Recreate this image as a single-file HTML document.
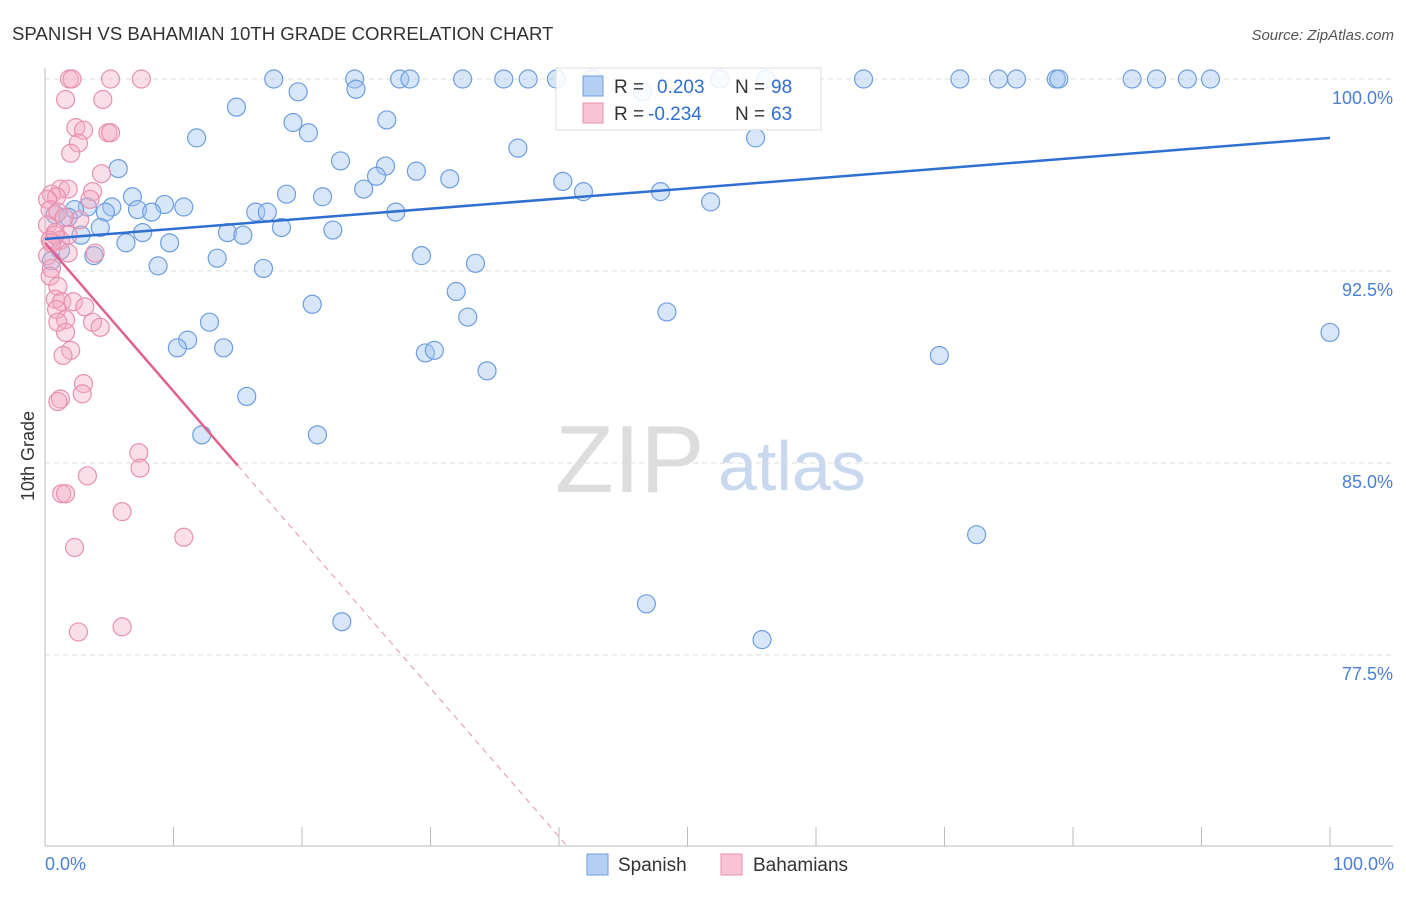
<!DOCTYPE html>
<html><head><meta charset="utf-8"><style>
body{margin:0;background:#fff;font-family:"Liberation Sans",sans-serif;}
svg text{font-family:"Liberation Sans",sans-serif;}
</style></head><body>
<svg id="chart" width="1406" height="892" xmlns="http://www.w3.org/2000/svg">
<text x="12" y="40" font-size="18.6" fill="#333">SPANISH VS BAHAMIAN 10TH GRADE CORRELATION CHART</text>
<text x="1394" y="40" font-size="15" fill="#555" font-style="italic" text-anchor="end">Source: ZipAtlas.com</text>
<g>
<text x="555" y="492" font-size="96" fill="#ddd" font-family="Liberation Serif, serif">ZIP</text>
<text x="718" y="490" font-size="70" fill="#c8d8ee">atlas</text>
</g>
<g id="grid"></g>
<g id="axes"></g>
<g id="pts"></g>
<g id="trends"></g>
<text transform="translate(34,456) rotate(-90)" font-size="18" fill="#333" text-anchor="middle">10th Grade</text>
<text x="45" y="870" font-size="18" fill="#4a7fd4">0.0%</text>
<text x="1394" y="870" font-size="18" fill="#4a7fd4" text-anchor="end">100.0%</text>
<g>
<rect x="556" y="68" width="265" height="62" fill="rgba(255,255,255,0.85)" stroke="#ddd"/>
<rect x="583" y="76" width="20" height="20" fill="#b5cff3" stroke="#6d9ee0"/>
<text x="614" y="93" font-size="19" fill="#333">R = </text><text x="657" y="93" font-size="19" fill="#2f6fd0">0.203</text>
<text x="735" y="93" font-size="19" fill="#333">N = </text><text x="771" y="93" font-size="19" fill="#2f6fd0">98</text>
<rect x="583" y="103" width="20" height="20" fill="#f8c3d4" stroke="#e890b0"/>
<text x="614" y="120" font-size="19" fill="#333">R = </text><text x="648" y="120" font-size="19" fill="#2f6fd0">-0.234</text>
<text x="735" y="120" font-size="19" fill="#333">N = </text><text x="771" y="120" font-size="19" fill="#2f6fd0">63</text>
</g>
<g>
<rect x="587" y="854" width="21" height="21" fill="#b5cff3" stroke="#6d9ee0"/>
<text x="618" y="871" font-size="19" fill="#333">Spanish</text>
<rect x="721" y="854" width="21" height="21" fill="#f8c3d4" stroke="#e890b0"/>
<text x="753" y="871" font-size="19" fill="#333">Bahamians</text>
</g>
</svg>
<script>
const yTicks=[100,92.5,85,77.5];
const yTickLabels=["100.0%","92.5%","85.0%","77.5%"];
const xTicks=[0,10,20,30,40,50,60,70,80,90,100];
const spanishX=[17.8,19.7,14.9,24.1,24.2,27.6,28.4,32.5,35.7,37.6,39.8,42.6,46.5,52.5,56.1,63.7,71.2,74.2,75.6,78.7,78.9,84.6,86.5,88.9,90.7,19.3,26.6,20.5,11.8,36.8,55.3,23.0,5.7,26.5,28.9,25.8,31.5,24.8,40.3,41.9,47.9,18.8,21.6,6.8,3.3,5.2,9.3,10.8,7.2,2.3,8.3,4.7,16.4,17.3,27.3,51.8,0.8,1.8,4.3,18.4,14.2,7.6,2.8,15.4,22.4,6.3,9.7,3.8,13.4,29.3,8.8,17.0,33.5,32.0,20.8,32.9,48.4,12.8,11.1,10.3,13.9,29.6,30.3,69.6,34.4,15.7,100,12.2,21.2,72.5,46.8,23.1,55.8,1.2,0.5];
const spanishY=[100,99.5,98.9,100,99.6,100,100,100,100,100,100,100,99.5,100,100,100,100,100,100,100,100,100,100,100,100,98.3,98.4,97.9,97.7,97.3,97.7,96.8,96.5,96.6,96.4,96.2,96.1,95.7,96.0,95.6,95.6,95.5,95.4,95.4,95.0,95.0,95.1,95.0,94.9,94.9,94.8,94.8,94.8,94.8,94.8,95.2,94.7,94.6,94.2,94.2,94.0,94.0,93.9,93.9,94.1,93.6,93.6,93.1,93.0,93.1,92.7,92.6,92.8,91.7,91.2,90.7,90.9,90.5,89.8,89.5,89.5,89.3,89.4,89.2,88.6,87.6,90.1,86.1,86.1,82.2,79.5,78.8,78.1,93.3,92.9];
const bahamianX=[1.9,2.1,5.1,7.5,1.6,4.5,2.4,3.0,4.9,5.1,2.6,2.0,4.4,1.2,1.8,3.7,0.5,0.9,0.2,3.5,0.4,1.0,2.7,0.2,0.8,1.8,0.4,1.2,0.2,1.8,3.9,0.5,0.4,1.0,0.8,1.3,2.2,0.9,3.1,1.6,3.7,1.0,4.3,1.6,2.0,1.4,3.0,2.9,1.2,1.0,7.3,7.4,3.3,1.3,1.6,6.0,10.8,2.3,2.6,6.0,0.8,0.5,1.5];
const bahamianY=[100,100,100,100,99.2,99.2,98.1,98.0,97.9,97.9,97.5,97.1,96.3,95.7,95.7,95.6,95.5,95.4,95.3,95.3,94.9,94.8,94.5,94.3,94.0,93.9,93.7,93.7,93.1,93.2,93.2,92.6,92.3,91.9,91.4,91.3,91.3,91.0,91.1,90.6,90.5,90.5,90.3,90.1,89.4,89.2,88.1,87.7,87.5,87.4,85.4,84.8,84.5,83.8,83.8,83.1,82.1,81.7,78.4,78.6,93.9,93.6,94.6];
const spanishTrend=[93.75,97.7];
const bahamianTrend=[93.6,-0.58];
const NS="http://www.w3.org/2000/svg";
const X=v=>45+v*12.85;
const Y=v=>79+(100-v)*25.6;
function mk(p,t,a){const e=document.createElementNS(NS,t);for(const k in a)e.setAttribute(k,a[k]);p.appendChild(e);return e;}
const grid=document.getElementById('grid'),axes=document.getElementById('axes'),pts=document.getElementById('pts'),tr=document.getElementById('trends');
yTicks.forEach((t,i)=>{
 const l=mk(grid,'line',{x1:45,x2:1393,y1:Y(t),y2:Y(t),stroke:'#ddd','stroke-dasharray':'5,4'});
 
 
 const tx=mk(grid,'text',{x:1393,y:Y(t)+25,'font-size':18,fill:'#4a7fd4','text-anchor':'end'});
 tx.textContent=yTickLabels[i];
 
 
});
const ya=mk(axes,'line',{x1:45,x2:45,y1:68,y2:846,stroke:'#bbb'});


const xa=mk(axes,'line',{x1:45,x2:1393,y1:846,y2:846,stroke:'#bbb'});


xTicks.forEach(t=>{
 const l=mk(axes,'line',{x1:X(t),x2:X(t),y1:827,y2:846,stroke:'#bbb'});
 
 
});
function dots(xs,ys,fill,stroke,name){xs.forEach((x,i)=>{
 const c=mk(pts,'circle',{cx:X(x),cy:Y(ys[i]),r:9,fill:fill,stroke:stroke,'stroke-width':1.2});
 
 
});}
dots(spanishX,spanishY,'rgba(160,195,240,0.42)','#6d9ee0','spanish-point');
dots(bahamianX,bahamianY,'rgba(245,170,195,0.38)','#e890b0','bahamian-point');
const bl=mk(tr,'line',{x1:X(0),y1:Y(spanishTrend[0]),x2:X(100),y2:Y(spanishTrend[1]),stroke:'#2f6fd0','stroke-width':2.5});


const bf=x=>bahamianTrend[0]+bahamianTrend[1]*x;
const xEnd=(70-bahamianTrend[0])/bahamianTrend[1];
const pl=mk(tr,'line',{x1:X(0),y1:Y(bf(0)),x2:X(15),y2:Y(bf(15)),stroke:'#e0608e','stroke-width':2.5});


const pd=mk(tr,'line',{x1:X(15),y1:Y(bf(15)),x2:X(xEnd),y2:Y(bf(xEnd)),stroke:'#e890b0','stroke-width':1,'stroke-dasharray':'6,5'});


</script>
</body></html>
